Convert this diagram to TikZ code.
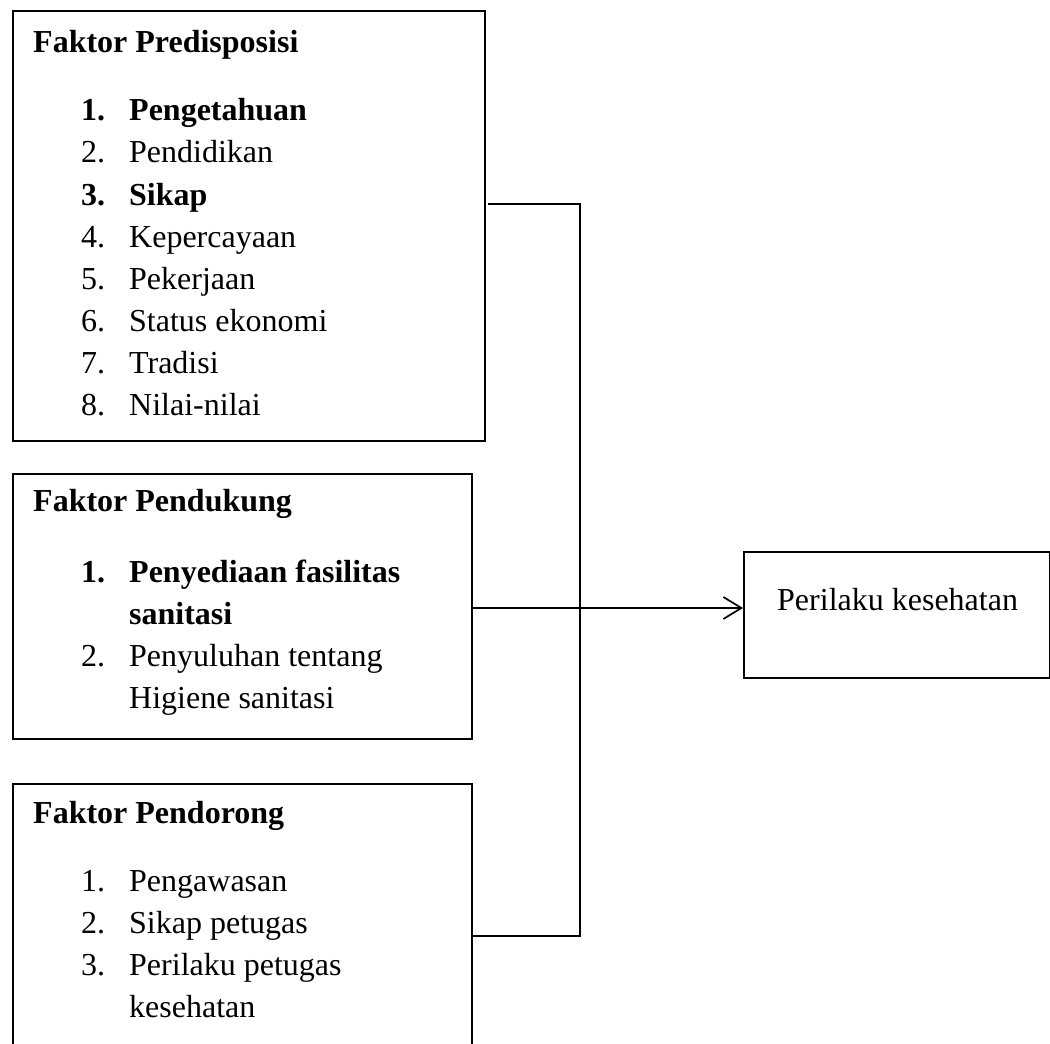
\documentclass[tikz,border=0pt]{standalone}
\usepackage{fontspec}
\setmainfont{Liberation Serif}
\usetikzlibrary{arrows.meta}
\begin{document}
\begin{tikzpicture}[x=1pt,y=-1pt,
  box/.style={draw=black,line width=1.7pt,inner sep=0pt,anchor=north west},
  txt/.style={anchor=base west,inner sep=0pt,font=\fontsize{32}{38}\selectfont},
  conn/.style={draw=black,line width=1.7pt},
  arr/.style={conn,-{Straight Barb[length=18pt,width=22pt,line width=1.7pt]}}
]
\useasboundingbox (0,0) rectangle (1050,1044);
\clip (0,0) rectangle (1050,1044);
\fill[white] (0,0) rectangle (1050,1044);

% boxes
\node[box,minimum width=472pt,minimum height=430pt] (pre) at (12,10) {};
\node[box,minimum width=459pt,minimum height=265pt] (pen) at (12,473) {};
\node[box,minimum width=459pt,minimum height=290pt] (dor) at (12,783) {};
\node[box,minimum width=306pt,minimum height=126pt] (out) at (743,551) {};

% Faktor Predisposisi
\node[txt] (preh) at (33,52) {\bfseries Faktor Predisposisi};
\node[txt] (pren1) at (81,120) {\bfseries 1.};
\node[txt] (pret1) at (129,120) {\bfseries Pengetahuan};
\node[txt] (pren2) at (81,162) {2.};
\node[txt] (pret2) at (129,162) {Pendidikan};
\node[txt] (pren3) at (81,205) {\bfseries 3.};
\node[txt] (pret3) at (129,205) {\bfseries Sikap};
\node[txt] (pren4) at (81,247) {4.};
\node[txt] (pret4) at (129,247) {Kepercayaan};
\node[txt] (pren5) at (81,289) {5.};
\node[txt] (pret5) at (129,289) {Pekerjaan};
\node[txt] (pren6) at (81,331) {6.};
\node[txt] (pret6) at (129,331) {Status ekonomi};
\node[txt] (pren7) at (81,373) {7.};
\node[txt] (pret7) at (129,373) {Tradisi};
\node[txt] (pren8) at (81,415) {8.};
\node[txt] (pret8) at (129,415) {Nilai-nilai};

% Faktor Pendukung
\node[txt] (penh) at (33,511) {\bfseries Faktor Pendukung};
\node[txt] (penn1) at (81,582) {\bfseries 1.};
\node[txt] (pent1) at (129,582) {\bfseries Penyediaan fasilitas};
\node[txt] (pent1b) at (129,624) {\bfseries sanitasi};
\node[txt] (penn2) at (81,666) {2.};
\node[txt] (pent2) at (129,666) {Penyuluhan tentang};
\node[txt] (pent2b) at (129,708) {Higiene sanitasi};

% Faktor Pendorong
\node[txt] (dorh) at (33,823) {\bfseries Faktor Pendorong};
\node[txt] (dorn1) at (81,891) {1.};
\node[txt] (dort1) at (129,891) {Pengawasan};
\node[txt] (dorn2) at (81,933) {2.};
\node[txt] (dort2) at (129,933) {Sikap petugas};
\node[txt] (dorn3) at (81,975) {3.};
\node[txt] (dort3) at (129,975) {Perilaku petugas};
\node[txt] (dort3b) at (129,1017) {kesehatan};

% outcome
\node[txt] (outt) at (777,610) {Perilaku kesehatan};

% connectors
\coordinate (c1) at (488,204);
\coordinate (c1r) at (580,204);
\coordinate (c3) at (dor.east |- 0,936);
\coordinate (c3r) at (580,936);
\coordinate (c2) at (pen.east |- 0,608);
\draw[conn] (c1) -- (c1r) -- (c3r) -- (c3);
\draw[arr] (c2) -- (c2 -| out.west);
\end{tikzpicture}
\end{document}
